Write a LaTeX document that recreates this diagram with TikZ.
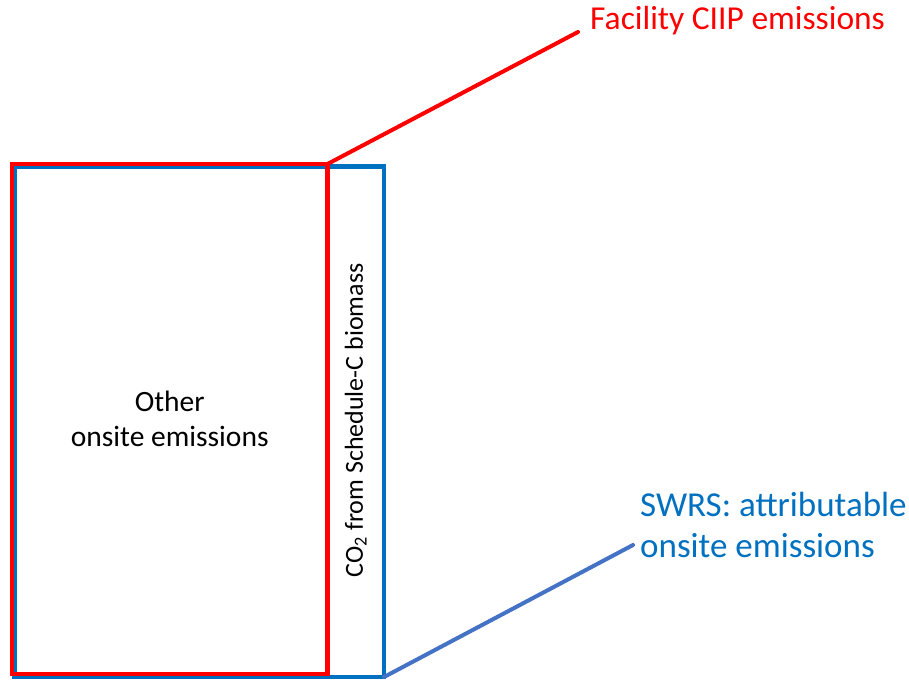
\documentclass[tikz,border=0pt]{standalone}
\usepackage{fontspec}
\setmainfont{Carlito}
\usetikzlibrary{calc}
\definecolor{swrsblue}{HTML}{0070C0}
\definecolor{leaderblue}{HTML}{4472C4}
\begin{document}
\begin{tikzpicture}[x=1pt, y=-1pt,
    box/.style={draw, line width=4.5pt, outer sep=0pt, inner sep=0pt, anchor=north west},
    lab/.style={font=\fontsize{33.5}{40.5}\selectfont, anchor=west, align=left, inner sep=0pt},
    leader/.style={line width=4pt, line cap=round}]
        \useasboundingbox (0,0) rectangle (909,681);
        \node[box, swrsblue, minimum width=369.5pt, minimum height=510.5pt] (swrs) at (14.5,166.5) {};
        \node[box, red, minimum width=315.5pt, minimum height=510pt] (ciip) at (12,164) {};
        \node[align=center, font=\fontsize{29.5}{35}\selectfont] (other) at (ciip.center) 
            {Other\\onsite emissions};
        \node[rotate=90, font=\fontsize{26}{31}\selectfont] (bio) at ($(ciip.east)!0.5!(swrs.east)$) 
            {CO\textsubscript{2} from Schedule-C biomass};
        \node[lab, red] (ciiplab) at (590,21) {Facility CIIP emissions};
        \node[lab, swrsblue, font=\fontsize{35}{40.5}\selectfont] (swrslab) at (640,525) 
            {SWRS: attributable\\onsite emissions};
        \coordinate (ciipend) at ([xshift=-12pt, yshift=-11pt]ciiplab.west);
        \coordinate (swrsend) at ([xshift=-7pt, yshift=-20pt]swrslab.west);
        \draw[leader, red] (ciip.north east) -- (ciipend);
        \draw[leader, leaderblue] (swrs.south east) -- (swrsend);
\end{tikzpicture}
\end{document}
